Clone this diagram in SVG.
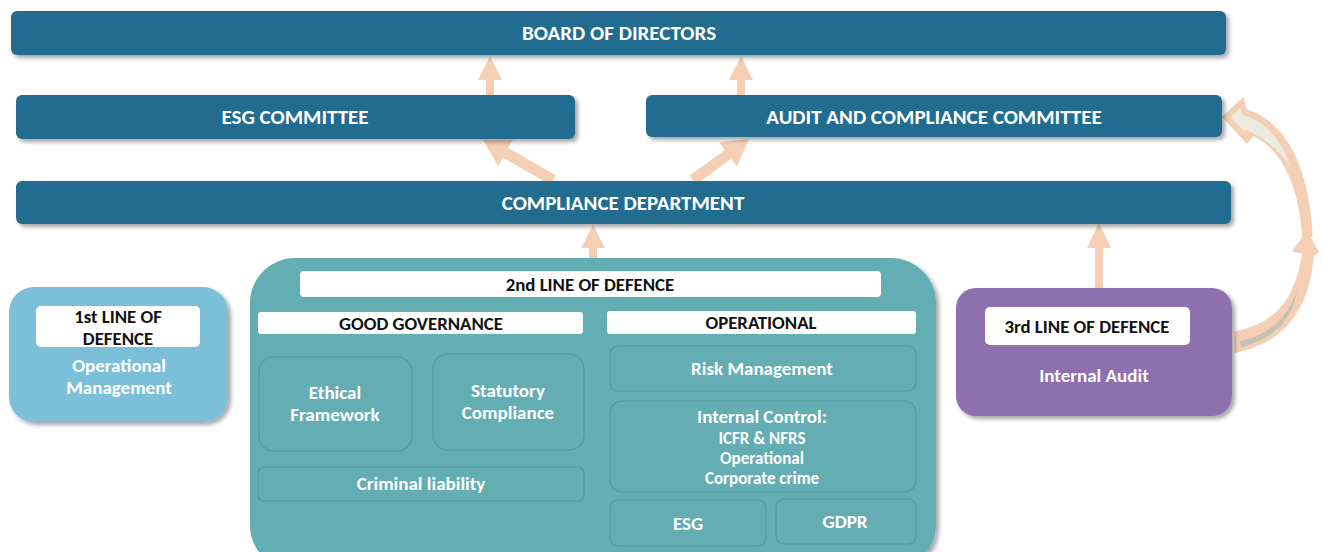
<svg xmlns="http://www.w3.org/2000/svg" width="1322" height="552" viewBox="0 0 1322 552">
  <defs>
    <filter id="shadow" x="-5%" y="-20%" width="110%" height="150%">
      <feDropShadow dx="3" dy="3" stdDeviation="2" flood-color="#000" flood-opacity="0.35"/>
    </filter>
  </defs>
  <style>
    .bar { fill: #206c90; filter: url(#shadow); }
    .bar-text { fill: #ffffff; font-family: Carlito, Calibri, "Liberation Sans", Arial, sans-serif; font-weight: bold; font-size: 21px; text-anchor: middle; }
    .label { fill: #ffffff; }
    .label-text { fill: #111111; font-family: Carlito, Calibri, "Liberation Sans", Arial, sans-serif; font-weight: bold; font-size: 18.8px; text-anchor: middle; }
    .white-text { fill: #ffffff; font-family: Carlito, Calibri, "Liberation Sans", Arial, sans-serif; font-weight: bold; font-size: 19px; text-anchor: middle; }
    .small-text { font-size: 17px; }
    .inner { fill: #64aeb3; stroke: #5598a3; stroke-width: 1.2; }
    .arrow { fill: #f4cfb3; }
  </style>

  <rect width="1322" height="552" fill="#ffffff"/>

  <!-- connectors -->
  <g id="connectors">
    <!-- committees to board -->
    <path class="arrow" d="M490,56 L502,80 L494,80 L494,95 L486,95 L486,80 L478,80 Z"/>
    <path class="arrow" d="M741,56 L753,80 L745,80 L745,95 L737,95 L737,80 L729,80 Z"/>
    <!-- compliance department to committees -->
    <path class="arrow" transform="translate(483,140) rotate(-60.3)" d="M0,0 L15,26 L5.5,26 L5.5,80.6 L-5.5,80.6 L-5.5,26 L-15,26 Z"/>
    <path class="arrow" transform="translate(749,139) rotate(53.8)" d="M0,0 L15,26 L5.5,26 L5.5,69.4 L-5.5,69.4 L-5.5,26 L-15,26 Z"/>
    <!-- lines of defence to compliance department -->
    <path class="arrow" d="M593,225 L605,248 L597,248 L597,259 L589,259 L589,248 L581,248 Z"/>
    <path class="arrow" d="M1099,223 L1111,248 L1103,248 L1103,289 L1095,289 L1095,248 L1087,248 Z"/>
    <!-- internal audit curved arrow to audit committee -->
    <path class="arrow" d="M1235,332 C1275,325 1296,300 1303,253 L1293,251 L1307,232 L1318,252 L1313,255 C1310,300 1290,342 1235,352 Z" stroke="#f4cfb3" stroke-width="1.5" stroke-linejoin="round"/>
    <path d="M1240,341 C1272,334 1289,315 1297,290 C1293,318 1276,338 1241,347 Z" fill="#c4c1b3"/>
    <path class="arrow" d="M1223,117 L1243,98 L1246,110 C1285,122 1308,165 1312,236 L1303,238 C1300,190 1285,150 1253,135 L1247,143 Z" stroke="#f4cfb3" stroke-width="1.5" stroke-linejoin="round"/>
    <path d="M1231,117 L1240,108 L1243,115 C1266,122 1282,140 1290,166 C1279,150 1263,137 1247,130 L1243,131 Z" fill="#ecebe2"/>
  </g>

  <!-- governing bodies -->
  <g id="board">
    <rect class="bar" x="11" y="11" width="1215" height="44" rx="6"/>
    <text class="bar-text" x="619" y="40">BOARD OF DIRECTORS</text>
  </g>
  <g id="esg-committee">
    <rect class="bar" x="16" y="95" width="559" height="44" rx="6"/>
    <text class="bar-text" x="295" y="124">ESG COMMITTEE</text>
  </g>
  <g id="audit-committee">
    <rect class="bar" x="646" y="95" width="576" height="42" rx="6"/>
    <text class="bar-text" x="934" y="124">AUDIT AND COMPLIANCE COMMITTEE</text>
  </g>
  <g id="compliance-department">
    <rect class="bar" x="16" y="181" width="1215" height="43" rx="6"/>
    <text class="bar-text" x="623" y="210">COMPLIANCE DEPARTMENT</text>
  </g>

  <!-- first line of defence -->
  <g id="first-line">
    <rect x="9" y="287" width="219" height="135" rx="25" fill="#7bbfd9" filter="url(#shadow)"/>
    <rect class="label" x="36" y="306" width="164" height="41" rx="5"/>
    <text class="label-text" x="118" y="323">1st LINE OF</text>
    <text class="label-text" x="118" y="345">DEFENCE</text>
    <text class="white-text" x="119" y="372">Operational</text>
    <text class="white-text" x="119" y="394">Management</text>
  </g>

  <!-- second line of defence -->
  <g id="second-line">
    <rect x="250" y="258" width="686" height="312" rx="45" fill="#64aeb3" filter="url(#shadow)"/>
    <rect class="label" x="300" y="271" width="581" height="26" rx="4"/>
    <text class="label-text" x="590" y="291">2nd LINE OF DEFENCE</text>
  </g>
  <g id="good-governance">
    <rect class="label" x="258" y="312" width="325" height="22" rx="3"/>
    <text class="label-text" x="421" y="330">GOOD GOVERNANCE</text>
  </g>
  <g id="operational">
    <rect class="label" x="607" y="311" width="309" height="23" rx="3"/>
    <text class="label-text" x="761" y="329">OPERATIONAL</text>
  </g>
  <g id="ethical-framework">
    <rect class="inner" x="259" y="357" width="153" height="94" rx="15"/>
    <text class="white-text" x="335" y="399">Ethical</text>
    <text class="white-text" x="335" y="421">Framework</text>
  </g>
  <g id="statutory-compliance">
    <rect class="inner" x="433" y="354" width="151" height="96" rx="15"/>
    <text class="white-text" x="508" y="397">Statutory</text>
    <text class="white-text" x="508" y="419">Compliance</text>
  </g>
  <g id="criminal-liability">
    <rect class="inner" x="258" y="467" width="326" height="34" rx="6"/>
    <text class="white-text" x="421" y="490">Criminal liability</text>
  </g>
  <g id="risk-management">
    <rect class="inner" x="610" y="346" width="306" height="45" rx="8"/>
    <text class="white-text" x="762" y="375">Risk Management</text>
  </g>
  <g id="internal-control">
    <rect class="inner" x="610" y="401" width="306" height="91" rx="12"/>
    <text class="white-text" x="762" y="423">Internal Control:</text>
    <text class="white-text small-text" x="762" y="444">ICFR &amp; NFRS</text>
    <text class="white-text small-text" x="762" y="464">Operational</text>
    <text class="white-text small-text" x="762" y="484">Corporate crime</text>
  </g>
  <g id="esg">
    <rect class="inner" x="610" y="500" width="156" height="46" rx="8"/>
    <text class="white-text" x="688" y="530">ESG</text>
  </g>
  <g id="gdpr">
    <rect class="inner" x="776" y="499" width="140" height="45" rx="8"/>
    <text class="white-text" x="845" y="528">GDPR</text>
  </g>

  <!-- third line of defence -->
  <g id="third-line">
    <rect x="956" y="288" width="276" height="128" rx="20" fill="#8f70ae" filter="url(#shadow)"/>
    <rect class="label" x="985" y="307" width="205" height="38" rx="5"/>
    <text class="label-text" x="1087" y="333">3rd LINE OF DEFENCE</text>
    <text class="white-text" x="1094" y="382">Internal Audit</text>
  </g>
</svg>
